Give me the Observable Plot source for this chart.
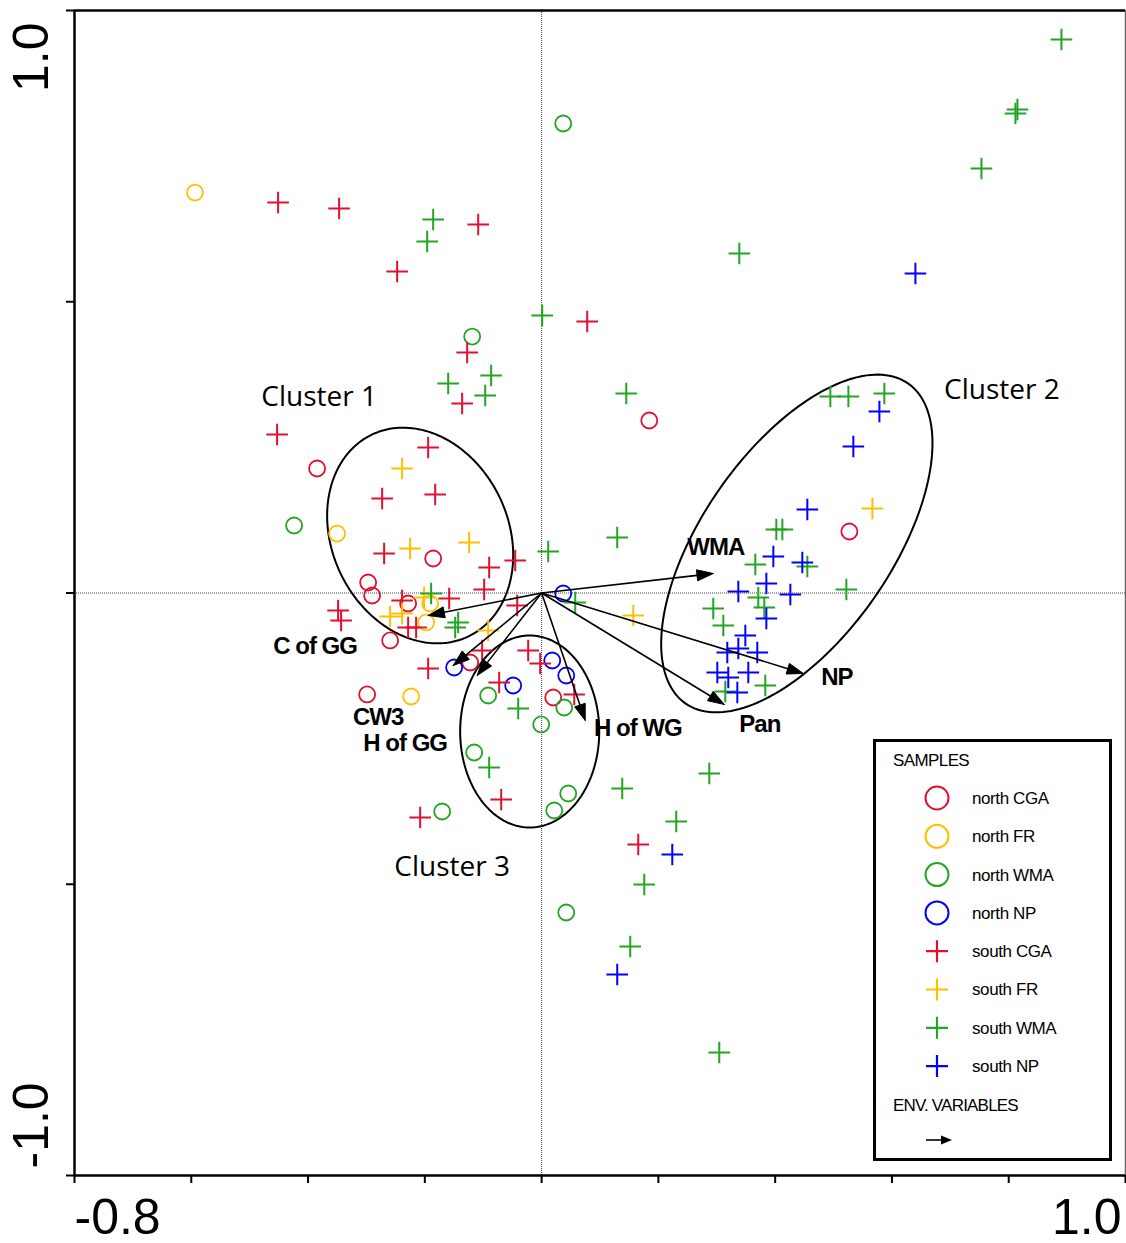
<!DOCTYPE html>
<html>
<head>
<meta charset="utf-8">
<script src="https://cdn.jsdelivr.net/npm/d3@7"></script>
<script src="https://cdn.jsdelivr.net/npm/@observablehq/plot@0.6"></script>
<style>
  html, body { margin: 0; padding: 0; background: #fff; }
  #wrap { position: relative; width: 1126px; height: 1243px; overflow: hidden; }
  #wrap svg.main [aria-label$="tick"] path, #wrap svg.main .tick line { stroke-width: 2; stroke: #000; }
  #legend { position: absolute; left: 873px; top: 739px; }
</style>
</head>
<body>
<div id="wrap"></div>
<script>
// ---------------- DATA (CCA axis scores) ----------------
const groups = ["north CGA", "north FR", "north WMA", "north NP", "south CGA", "south FR", "south WMA", "south NP"];
const groupColors = ["#e2102e", "#ffbf00", "#22a522", "#0000ff", "#e2102e", "#ffbf00", "#22a522", "#0000ff"];

const northCGA = [[-0.3845,0.2137],[0.1844,0.2961],[-0.1857,0.0592],[-0.2971,0.0180],[-0.2903,-0.0043],[-0.2286,-0.0180],[-0.2594,-0.0815],[-0.1223,-0.1193],[-0.2988,-0.1742],[0.0199,-0.1794],[0.5271,0.1056]];
const northFR = [[-0.5936,0.6875],[-0.3502,0.1021],[-0.1909,-0.0180],[-0.1977,-0.0506],[-0.2234,-0.1777]];
const northWMA = [[0.0370,0.8060],[-0.1189,0.4403],[-0.4239,0.1159],[-0.0915,-0.1760],[0.0387,-0.1966],[-0.0007,-0.2257],[-0.1155,-0.2738],[0.0456,-0.3442],[0.0216,-0.3734],[-0.1703,-0.3751],[0.0422,-0.5485]];
const northNP = [[0.0370,-0.0009],[-0.1498,-0.1279],[0.0182,-0.1159],[0.0422,-0.1416],[-0.0487,-0.1588]];
const southCGA = [[-0.4513,0.6704],[-0.3468,0.6601],[-0.2474,0.5519],[-0.1086,0.6326],[0.0781,0.4661],[-0.1275,0.4129],[-0.1361,0.3253],[-0.4530,0.2721],[-0.1943,0.2498],[-0.2731,0.1622],[-0.1823,0.1691],[-0.2697,0.0678],[-0.0898,0.0438],[-0.0452,0.0558],[-0.0984,0.0060],[-0.1583,-0.0094],[-0.2389,-0.0129],[-0.0418,-0.0215],[-0.3485,-0.0300],[-0.3434,-0.0472],[-0.2286,-0.0592],[-0.2149,-0.0592],[-0.1018,-0.0987],[-0.1943,-0.1296],[-0.0230,-0.0987],[-0.0024,-0.1210],[-0.0727,-0.1536],[0.0559,-0.1742],[-0.0692,-0.3545],[-0.2080,-0.3854],[0.1655,-0.4317]];
const southFR = [[-0.2389,0.2137],[-0.2252,0.0764],[-0.1241,0.0867],[-0.2594,-0.0403],[-0.2389,-0.0352],[-0.2012,-0.0077],[-0.0915,-0.0644],[0.1570,-0.0386],[0.5665,0.1451]];
const southWMA = [[0.8903,0.9502],[0.8149,0.8300],[0.8115,0.8232],[0.7533,0.7288],[0.3386,0.5828],[-0.1857,0.6412],[-0.1960,0.6034],[0.0010,0.4764],[-0.1600,0.3597],[-0.0864,0.3734],[-0.0966,0.3391],[0.1450,0.3425],[0.4945,0.3373],[0.5254,0.3373],[0.5870,0.3425],[0.4020,0.1090],[0.4123,0.1090],[0.1295,0.0953],[0.0113,0.0712],[0.3660,0.0489],[0.4551,0.0455],[0.5219,0.0060],[0.3711,-0.0077],[0.3814,-0.0249],[0.2940,-0.0266],[0.3112,-0.0558],[0.3831,-0.1588],[0.3146,-0.1691],[-0.1892,-0.0009],[-0.1429,-0.0506],[-0.1480,-0.0592],[0.0576,-0.0163],[-0.0401,-0.1983],[-0.0898,-0.2996],[0.1381,-0.3356],[0.2872,-0.3099],[0.2306,-0.3923],[0.1758,-0.5004],[0.1518,-0.6068],[0.3043,-0.7888]];
const southNP = [[0.6402,0.5485],[0.5785,0.3116],[0.5339,0.2515],[0.4551,0.1433],[0.3969,0.0627],[0.4465,0.0524],[0.3849,0.0163],[0.3369,0.0026],[0.4260,-0.0026],[0.3849,-0.0438],[0.3489,-0.0730],[0.3369,-0.0953],[0.3180,-0.1021],[0.3694,-0.1021],[0.3009,-0.1365],[0.3197,-0.1451],[0.3540,-0.1365],[0.3352,-0.1708],[0.2238,-0.4489],[0.1295,-0.6549]];
const groupPoints = [northCGA, northFR, northWMA, northNP, southCGA, southFR, southWMA, southNP];

// environmental variables (biplot arrow end points)
const envNames = ["WMA", "NP", "Pan", "H of WG", "C of GG", "CW3", "H of GG"];
const envX = [0.2940, 0.4483, 0.3129, 0.0747, -0.1943, -0.1515, -0.1104];
const envY = [0.0335, -0.1382, -0.1914, -0.2189, -0.0386, -0.1245, -0.1416];
const envLabelX = [0.2983, 0.5057, 0.3737, 0.1647, -0.3879, -0.2800, -0.2337];
const envLabelY = [0.0781, -0.1451, -0.2257, -0.2326, -0.0918, -0.2137, -0.2584];

// cluster ellipses
const clusterNames = ["Cluster 1", "Cluster 2", "Cluster 3"];
const clusterCx = [-0.2080, 0.4371, -0.0204];
const clusterCy = [0.0987, 0.0850, -0.2378];
const clusterA = [0.1919, 0.3343, 0.1191];
const clusterB = [0.1511, 0.1621, 0.1648];
const clusterAngle = [-64.7, 55.3, 0];
const clusterLabelX = [-0.3811, 0.7884, -0.1532];
const clusterLabelY = [0.3356, 0.3476, -0.4712];

// axis tick values and end labels
const xTicks = d3.range(0, 10).map(i => -0.8 + i * 0.2);
const yTicks = d3.range(0, 5).map(i => -1 + i * 0.5);
const xEndLabels = ["-0.8", "1.0"];
const yEndLabels = ["1.0", "-1.0"];

// ---------------- derived tables ----------------
const samples = groups.flatMap((g, gi) => groupPoints[gi].map(([x, y]) => ({group: g, north: g.startsWith("north"), x, y})));
const env = envNames.map((name, i) => ({name, x: envX[i], y: envY[i], lx: envLabelX[i], ly: envLabelY[i]}));
const headLen = 0.028, headHalf = 0.0095;
env.forEach(d => {
  const L = Math.hypot(d.x, d.y), ux = d.x / L, uy = d.y / L;
  d.bx = d.x - headLen * ux; d.by = d.y - headLen * uy;
  d.head = [[d.x, d.y], [d.bx - headHalf * uy, d.by + headHalf * ux], [d.bx + headHalf * uy, d.by - headHalf * ux], [d.x, d.y]]
    .map(([x, y]) => ({name: d.name, x, y}));
});
const heads = env.flatMap(d => d.head);
const ellipsePts = clusterNames.flatMap((name, i) => {
  const th = clusterAngle[i] * Math.PI / 180;
  return d3.range(0, 181).map(k => {
    const t = k / 180 * 2 * Math.PI;
    const a = clusterA[i] * Math.cos(t), b = clusterB[i] * Math.sin(t);
    return {name, x: clusterCx[i] + a * Math.cos(th) - b * Math.sin(th), y: clusterCy[i] + a * Math.sin(th) + b * Math.cos(th)};
  });
});
const clusterLabels = clusterNames.map((name, i) => ({name, x: clusterLabelX[i], y: clusterLabelY[i]}));

const color = {domain: groups, range: groupColors};

const plot = Plot.plot({
  width: 1126,
  height: 1243,
  marginLeft: 74,
  marginRight: 1,
  marginTop: 10,
  marginBottom: 68,
  style: {fontFamily: "'Liberation Sans', Arial, sans-serif", background: "white", overflow: "visible"},
  x: {domain: [-0.8, 1.0], ticks: xTicks, tickSize: 8, tickFormat: () => "", label: null},
  y: {domain: [-1, 1], ticks: yTicks, tickSize: 8, tickFormat: () => "", label: null},
  color,
  marks: [
    Plot.ruleX([0], {stroke: "#444", strokeWidth: 1, strokeDasharray: "1,1"}),
    Plot.ruleY([0], {stroke: "#444", strokeWidth: 1, strokeDasharray: "1,1"}),
    Plot.ruleX([1.0], {stroke: "#666", strokeWidth: 1.5}),
    Plot.ruleY([1.0], {stroke: "#000", strokeWidth: 2.5}),
    Plot.ruleX([-0.8], {stroke: "#000", strokeWidth: 2.5}),
    Plot.ruleY([-1.0], {stroke: "#000", strokeWidth: 2.5}),
    // cluster ellipses
    Plot.line(ellipsePts, {x: "x", y: "y", z: "name", stroke: "#000", strokeWidth: 2, curve: "linear"}),
    // samples
    Plot.dot(samples.filter(d => d.north), {x: "x", y: "y", stroke: "group", r: 8, strokeWidth: 1.8, symbol: "circle", fill: "none"}),
    Plot.dot(samples.filter(d => !d.north), {x: "x", y: "y", stroke: "group", r: 7, strokeWidth: 2, symbol: "plus"}),
    // environmental arrows
    Plot.link(env, {x1: () => 0, y1: () => 0, x2: "bx", y2: "by", stroke: "#000", strokeWidth: 1.6}),
    Plot.line(heads, {x: "x", y: "y", z: "name", fill: "#000", stroke: "#000", strokeWidth: 1}),
    Plot.text(env, {x: "lx", y: "ly", text: "name", fontSize: 24, fontWeight: "bold", fill: "#000", textAnchor: "middle"}),
    // cluster labels
    Plot.text(clusterLabels, {x: "x", y: "y", text: "name", fontSize: 28, fontFamily: "'Open Sans', sans-serif", fill: "#000"}),
    // axis end labels
    Plot.text([xEndLabels[0]], {x: -0.8, y: -1, text: d => d, textAnchor: "start", dy: 42, fontSize: 50, fill: "#000"}),
    Plot.text([xEndLabels[1]], {x: 1.0, y: -1, text: d => d, textAnchor: "end", dx: -4, dy: 42, fontSize: 50, fill: "#000"}),
    Plot.text([yEndLabels[0]], {x: -0.8, y: 1.0, text: d => d, rotate: -90, textAnchor: "end", dx: -43, dy: 12, fontSize: 50, fill: "#000"}),
    Plot.text([yEndLabels[1]], {x: -0.8, y: -1.0, text: d => d, rotate: -90, textAnchor: "start", dx: -43, dy: -7, fontSize: 50, fill: "#000"})
  ]
});
plot.classList.add("main");
const wrap = document.getElementById("wrap");
wrap.appendChild(plot);
// tighten env-variable label spacing
d3.select(plot).selectAll("text").filter(function () { return envNames.includes(this.textContent); })
  .attr("letter-spacing", "-1");

// ---------------- legend ----------------
const lw = 239, lh = 422;
const leg = d3.select(wrap).append("svg").attr("id", "legend").attr("width", lw).attr("height", lh)
  .style("font-family", "'Liberation Sans', Arial, sans-serif");
leg.append("rect").attr("x", 1.5).attr("y", 1.5).attr("width", lw - 3).attr("height", lh - 3)
  .attr("fill", "#fff").attr("stroke", "#000").attr("stroke-width", 3);
leg.append("text").attr("x", 20).attr("y", 21).attr("dy", "0.35em").attr("font-size", 17).attr("letter-spacing", "-0.6").text("SAMPLES");
groups.forEach((g, i) => {
  const y = 59 + i * 38.3;
  const c = groupColors[i];
  if (g.startsWith("north")) {
    leg.append("circle").attr("cx", 64).attr("cy", y).attr("r", 11.5).attr("fill", "none").attr("stroke", c).attr("stroke-width", 2);
  } else {
    leg.append("path").attr("d", `M${64 - 11},${y}H${64 + 11}M64,${y - 11}V${y + 11}`).attr("stroke", c).attr("stroke-width", 2.2);
  }
  leg.append("text").attr("x", 99).attr("y", y).attr("dy", "0.35em").attr("font-size", 17).attr("letter-spacing", "-0.4").text(g);
});
leg.append("text").attr("x", 20).attr("y", 366).attr("dy", "0.35em").attr("font-size", 17).attr("letter-spacing", "-0.8").text("ENV. VARIABLES");
leg.append("line").attr("x1", 53).attr("y1", 401).attr("x2", 70).attr("y2", 401).attr("stroke", "#000").attr("stroke-width", 1.6);
leg.append("path").attr("d", "M79,401L68,396.5L68,405.5Z").attr("fill", "#000");
</script>
</body>
</html>
